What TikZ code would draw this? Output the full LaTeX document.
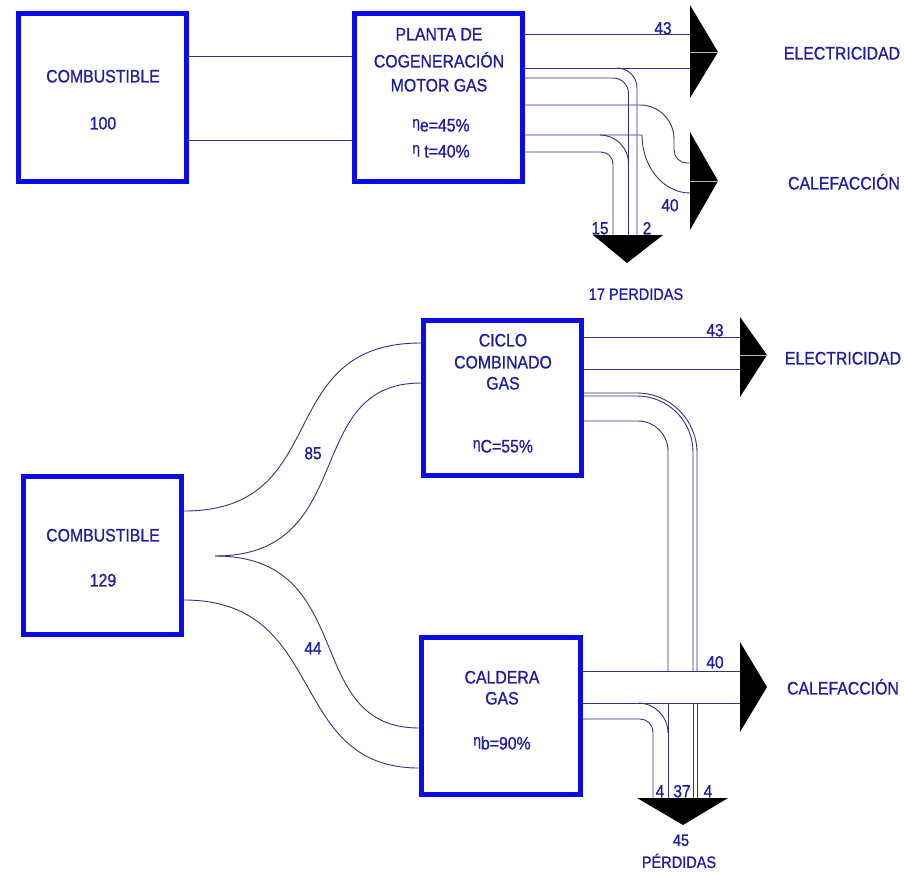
\documentclass[tikz,border=0pt]{standalone}
\usepackage{fontspec}
\setmainfont{Liberation Sans}[FakeStretch=0.88,FakeBold=0.9]
\usetikzlibrary{calc}
\definecolor{boxblue}{RGB}{12,12,235}
\definecolor{txt}{RGB}{30,30,160}
\definecolor{flowc}{RGB}{50,50,130}
\pgfdeclarelayer{fg}
\pgfsetlayers{main,fg}
\newcommand\etasym{{\fontsize{15.5}{15.5}\selectfont\raisebox{4pt}{η}}}
\begin{document}
\begin{tikzpicture}[x=1pt,y=-1pt,
  blk/.style={draw=boxblue,line width=5pt,inner sep=0pt,fill=none},
  flow/.style={draw=flowc,line width=0.9pt},
  tipfill/.style={fill=black},
  seam/.style={draw=gray!60,line width=0.5pt},
  lbl/.style={text=txt,font=\fontsize{18}{20}\selectfont,inner sep=0pt,text height=12.9pt,text depth=0pt},
  num/.style={text=txt,font=\fontsize{17.5}{20}\selectfont,inner sep=0pt,text height=12.5pt,text depth=0pt},
  small/.style={text=txt,font=\fontsize{16.5}{20}\selectfont,inner sep=0pt,text height=11.8pt,text depth=0pt}
]
\useasboundingbox[fill=white] (0,0) rectangle (904,873);

% ---------- boxes (drawn on top layer) ----------
\begin{pgfonlayer}{fg}
\node[blk,minimum width=168pt,minimum height=168pt] (A) at (102.5,97.5) {};
\node[blk,minimum width=168pt,minimum height=168pt] (B) at (438.5,97.5) {};
\node[blk,minimum width=158pt,minimum height=158pt] (C) at (102.5,555.5) {};
\node[blk,minimum width=158pt,minimum height=155pt] (D) at (502.5,398) {};
\node[blk,minimum width=159pt,minimum height=157pt] (E) at (501,716) {};
\end{pgfonlayer}

% ---------- texts ----------
\node[lbl] (a1) at (103,76) {COMBUSTIBLE};
\node[lbl] (a2) at (103,123) {100};
\node[lbl] (b1) at (439,34) {PLANTA DE};
\node[lbl] (b2) at (439,61) {COGENERACIÓN};
\node[lbl] (b3) at (439,85) {MOTOR GAS};
\node[lbl] (b4) at (441,125) {\etasym e=45\%};
\node[lbl] (b5) at (441,151) {\etasym\ t=40\%};
\node[lbl] (c1) at (103,535) {COMBUSTIBLE};
\node[lbl] (c2) at (103,580) {129};
\node[lbl] (d1) at (503,340) {CICLO};
\node[lbl] (d2) at (503,362) {COMBINADO};
\node[lbl] (d3) at (503,383) {GAS};
\node[lbl] (d4) at (503,446) {\etasym C=55\%};
\node[lbl] (e1) at (502,677) {CALDERA};
\node[lbl] (e2) at (502,698) {GAS};
\node[lbl] (e3) at (502,743) {\etasym b=90\%};

\node[lbl] (out1) at (842,53) {ELECTRICIDAD};
\node[lbl] (out2) at (844,183) {CALEFACCIÓN};
\node[lbl] (out3) at (843,358) {ELECTRICIDAD};
\node[lbl] (out4) at (843,688) {CALEFACCIÓN};
\node[small] (p1) at (636,294) {17 PERDIDAS};
\node[small] (p2) at (681,840) {45};
\node[small] (p3) at (679,862) {PÉRDIDAS};

\node[num] (n1) at (663,28) {43};
\node[num] (n2) at (670,205) {40};
\node[num] (n3) at (600,228) {15};
\node[num] (n4) at (647,228) {2};
\node[num] (n5) at (313,453) {85};
\node[num] (n6) at (313,648) {44};
\node[num] (n7) at (715,330) {43};
\node[num] (n8) at (715,662) {40};
\node[num] (n9) at (660,791) {4};
\node[num] (n10) at (682,791) {37};
\node[num] (n11) at (708,791) {4};

% ---------- top flows ----------
\draw[flow] (A.east |- 0,56) -- (B.west |- 0,56);
\draw[flow] (A.east |- 0,140) -- (B.west |- 0,140);

% electricity
\draw[flow] (B.east |- 0,34) -- (690,34);
\draw[flow] (B.east |- 0,68) -- (690,68);
% loss 2
\draw[flow] (617,68) .. controls (628.05,68) and (637,76.95) .. (637,88) -- (637,235);
\draw[flow] (B.east |- 0,78) -- (613,78) .. controls (621.6,78) and (628.5,84.9) .. (628.5,93.5) -- (628.5,235);
% heat
\draw[flow] (B.east |- 0,105) -- (640,105) .. controls (658.8,105) and (674,120.2) .. (674,139) -- (674,150)
   .. controls (674,157.2) and (679.8,163) .. (687,163) -- (690,163);
\draw[flow] (B.east |- 0,135) -- (642,135) .. controls (642,167) and (663.5,193) .. (690,193);
% loss 15
\draw[flow] (600,135) .. controls (615.7,135) and (628.5,147.8) .. (628.5,163.5);
\draw[flow] (B.east |- 0,152) -- (601,152) .. controls (607.6,152) and (613,157.4) .. (613,164) -- (613,235);

% arrows top
\fill[tipfill] (690,5) -- (718,52) -- (690,98) -- cycle;
\draw[seam] (690,52) -- (718,52);
\fill[tipfill] (690,132) -- (718,181) -- (690,230) -- cycle;
\draw[seam] (690,181) -- (718,181);
\fill[tipfill] (593,235) -- (663,235) -- (627,263) -- cycle;

% ---------- bottom flows ----------
\draw[flow] (C.east |- 0,511) .. controls (335,511) and (270,343) .. (D.west |- 0,343);
\draw[flow] (215,556) .. controls (360,556) and (300,383) .. (D.west |- 0,383);
\draw[flow] (215,556) .. controls (360,556) and (300,728) .. (E.west |- 0,728);
\draw[flow] (C.east |- 0,600) .. controls (330,600) and (285,768) .. (E.west |- 0,768);

% ciclo electricity
\draw[flow] (D.east |- 0,337) -- (740,337);
\draw[flow] (D.east |- 0,369) -- (740,369);
% ciclo losses
\draw[flow] (D.east |- 0,393) -- (637,393) .. controls (670.1,393) and (697,419.9) .. (697,453) -- (697,671);
\draw[flow] (697,703) -- (697,798);
\draw[flow] (D.east |- 0,396) -- (637,396) .. controls (667.9,396) and (693,421.1) .. (693,452) -- (693,671);
\draw[flow] (693,703) -- (693,798);
\draw[flow] (D.east |- 0,421) -- (638,421) .. controls (654.6,421) and (668,434.4) .. (668,451) -- (668,671);
\draw[flow] (668,703) -- (668,798);

% caldera heat
\draw[flow] (E.east |- 0,671) -- (740,671);
\draw[flow] (E.east |- 0,703) -- (740,703);
% caldera losses
\draw[flow] (638,703) .. controls (654.6,703) and (668,716.4) .. (668,733);
\draw[flow] (E.east |- 0,719) -- (640,719) .. controls (647.2,719) and (653,724.8) .. (653,732) -- (653,798);

% arrows bottom
\fill[tipfill] (740,317) -- (767,355) -- (740,397) -- cycle;
\draw[seam] (740,355) -- (767,355);
\fill[tipfill] (740,642) -- (767,687) -- (740,732) -- cycle;
\fill[tipfill] (637,798) -- (728,798) -- (683,825) -- cycle;
\end{tikzpicture}
\end{document}
